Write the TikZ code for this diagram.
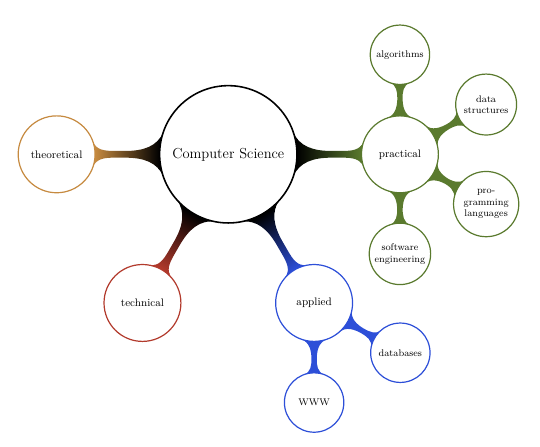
\documentclass[tikz,border=0pt]{standalone}
\usepackage{tikz}
\usetikzlibrary{mindmap}

\definecolor{theocol}{HTML}{C68A40}
\definecolor{techcol}{HTML}{B23A2C}
\definecolor{applcol}{HTML}{2D4FD8}
\definecolor{praccol}{HTML}{5A7A2E}

\tikzset{
  ring/.style={concept, fill=white, draw=#1, text=black, line width=1pt},
  ring0/.style={ring=#1, font=\large, line width=1.3pt},
  ring1/.style={ring=#1, font=\small},
  ring2/.style={ring=#1, font=\footnotesize},
}

\begin{document}
\begin{tikzpicture}
  %%%%% START %%%%%
  \useasboundingbox (-6.65, -8.497) rectangle (9.08, 4.495);

  \path[mindmap, concept color=black,
        root concept/.append style={minimum size=3.99cm, text width=3.5cm},
        level 1 concept/.append style={minimum size=2.24cm, text width=2cm,
                                       level distance=5cm, sibling angle=60},
        level 2 concept/.append style={minimum size=1.73cm, text width=1.6cm,
                                       level distance=2.9cm, sibling angle=60}]
    node[ring0=black] (cs) {Computer Science}
    [clockwise from=0]
    child[concept color=praccol] {
      node[ring1=praccol] (prac) {practical}
      [clockwise from=90]
      child { node[ring2=praccol] (algo) {algorithms} }
      child { node[ring2=praccol] (data) {data structures} }
      child { node[ring2=praccol] (lang) {pro\-gramming languages} }
      child { node[ring2=praccol] (soft) {software engineering} }
    }
    child[concept color=applcol] {
      node[ring1=applcol] (appl) {applied}
      [clockwise from=-30]
      child { node[ring2=applcol] (dbs) {databases} }
      child { node[ring2=applcol] (www) {WWW} }
    }
    child[concept color=techcol] { node[ring1=techcol] (tech) {technical} }
    child[concept color=theocol] { node[ring1=theocol] (theo) {theoretical} };

  %%%%% END %%%%%
\end{tikzpicture}
\end{document}
